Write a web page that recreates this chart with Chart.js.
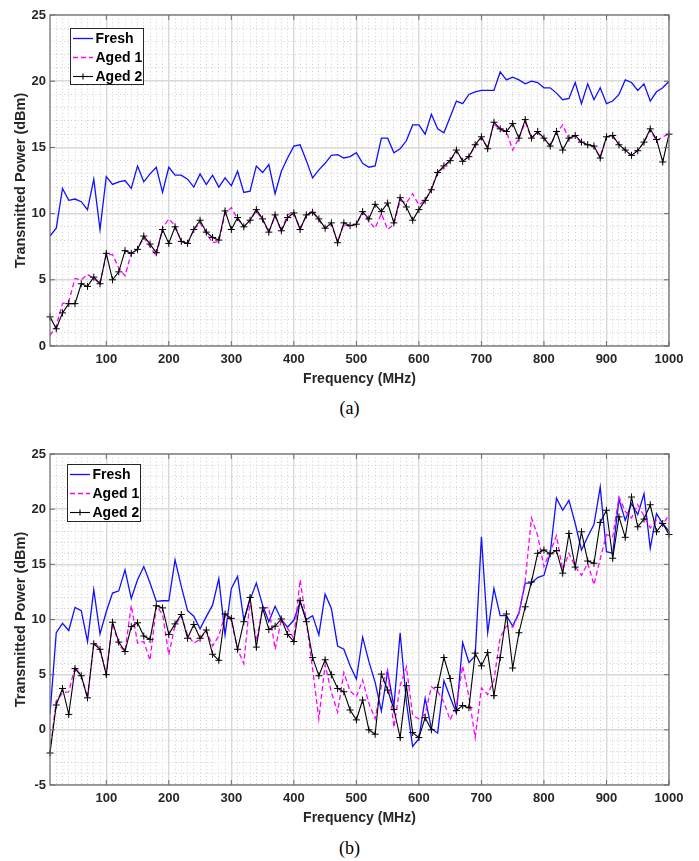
<!DOCTYPE html>
<html lang="en">
<head>
    <meta charset="UTF-8">
    <title>Transmitted Power vs Frequency</title>
    <script src="https://cdn.jsdelivr.net/npm/chart.js"></script>
    <style>
        body {
            margin: 0;
            background: #fff;
        }

        .page {
            position: relative;
            width: 699px;
            height: 861px;
            background: #fff;
        }

        .panel {
            position: absolute;
            left: 0;
            width: 699px;
            height: 395px;
        }

        .caption {
            position: absolute;
            left: 0;
            width: 699px;
            text-align: center;
            font-family: "Liberation Serif", "Times New Roman", serif;
            font-size: 18px;
            color: #000;
        }
    </style>
</head>
<body>
<div class="page">
    <div class="panel" style="top:0"><canvas id="chartA" width="699" height="395"></canvas></div>
    <div class="caption" style="top:398px">(a)</div>
    <div class="panel" style="top:439px"><canvas id="chartB" width="699" height="395"></canvas></div>
    <div class="caption" style="top:838px">(b)</div>
</div>

<script>
    // frequency points (MHz)
    const freq = [
        10, 20, 30, 40, 50, 60, 70, 80, 90, 100,
        110, 120, 130, 140, 150, 160, 170, 180, 190, 200,
        210, 220, 230, 240, 250, 260, 270, 280, 290, 300,
        310, 320, 330, 340, 350, 360, 370, 380, 390, 400,
        410, 420, 430, 440, 450, 460, 470, 480, 490, 500,
        510, 520, 530, 540, 550, 560, 570, 580, 590, 600,
        610, 620, 630, 640, 650, 660, 670, 680, 690, 700,
        710, 720, 730, 740, 750, 760, 770, 780, 790, 800,
        810, 820, 830, 840, 850, 860, 870, 880, 890, 900,
        910, 920, 930, 940, 950, 960, 970, 980, 990, 1000
    ];

    const seriesNames = ['Fresh', 'Aged 1', 'Aged 2'];
    const xTickLabels = [100, 200, 300, 400, 500, 600, 700, 800, 900, 1000];
    const yTickLabelsA = [0, 5, 10, 15, 20, 25];
    const yTickLabelsB = [-5, 0, 5, 10, 15, 20, 25];

    // (a) transmitted power, dBm
    const freshA = [
        8.3, 8.9, 11.9, 11.0, 11.1, 10.9, 10.3, 12.6, 8.8, 12.8,
        12.2, 12.4, 12.5, 11.9, 13.6, 12.4, 13.0, 13.5, 11.6, 13.5,
        12.9, 12.9, 12.6, 12.0, 13.0, 12.2, 12.9, 12.0, 12.7, 12.1,
        13.2, 11.6, 11.7, 13.6, 13.1, 13.7, 11.5, 13.2, 14.2, 15.1,
        15.2, 14.0, 12.7, 13.3, 13.8, 14.4, 14.45, 14.2, 14.3, 14.6,
        13.8, 13.5, 13.6, 15.7, 15.7, 14.6, 14.9, 15.5, 16.7, 16.7,
        16.0, 17.5, 16.4, 16.1, 17.3, 18.5, 18.3, 19.0, 19.2, 19.3,
        19.3, 19.3, 20.7, 20.1, 20.3, 20.1, 19.8, 20.0, 19.9, 19.5,
        19.5, 19.1, 18.6, 18.7, 19.9, 18.3, 19.8, 18.6, 19.5, 18.3,
        18.5, 19.0, 20.1, 19.9, 19.3, 19.8, 18.5, 19.2, 19.5, 20.0
    ];
    const aged1A = [
        0.8, 1.5, 3.2, 3.35, 5.1, 5.0, 5.4, 5.1, 4.7, 6.9,
        6.9, 5.9, 5.3, 7.0, 7.3, 8.2, 7.5, 6.8, 8.9, 9.6,
        9.1, 7.9, 7.7, 8.8, 9.3, 8.5, 7.8, 7.9, 10.0, 10.45,
        9.6, 9.0, 9.5, 10.2, 9.5, 8.6, 9.8, 8.7, 9.95, 10.0,
        8.9, 9.8, 10.2, 9.5, 8.9, 9.2, 7.9, 9.2, 9.0, 9.2,
        10.1, 9.4, 8.9, 10.0, 8.8, 9.2, 11.0, 10.8, 11.5, 10.65,
        11.0, 11.9, 13.1, 13.5, 14.0, 14.7, 14.0, 14.3, 15.1, 15.7,
        15.0, 16.8, 16.3, 16.2, 14.8, 15.7, 16.9, 15.7, 16.1, 15.7,
        15.1, 16.1, 16.7, 15.6, 15.9, 15.3, 15.2, 15.0, 14.3, 15.8,
        15.8, 15.2, 14.8, 14.4, 14.8, 15.4, 16.3, 15.5, 15.8, 16.0
    ];
    const aged2A = [
        2.2, 1.3, 2.5, 3.2, 3.2, 4.7, 4.5, 5.2, 4.7, 7.0,
        5.0, 5.6, 7.2, 7.0, 7.3, 8.3, 7.7, 7.05, 8.8, 7.75,
        9.0, 7.9, 7.75, 8.8, 9.5, 8.6, 8.2, 8.0, 10.2, 8.8,
        9.7, 9.0, 9.5, 10.3, 9.6, 8.6, 9.9, 8.7, 9.7, 10.05,
        8.8, 9.9, 10.1, 9.6, 8.9, 9.3, 7.8, 9.3, 9.1, 9.2,
        10.15, 9.6, 10.7, 10.15, 10.8, 9.3, 11.2, 10.5, 9.5, 10.3,
        11.0, 11.8, 13.1, 13.6, 14.0, 14.8, 13.95, 14.3, 15.2, 15.8,
        14.9, 16.9, 16.4, 16.2, 16.8, 15.7, 17.1, 15.7, 16.2, 15.7,
        15.1, 16.2, 14.8, 15.7, 15.9, 15.4, 15.2, 15.1, 14.2, 15.8,
        15.9, 15.2, 14.8, 14.4, 14.75, 15.4, 16.4, 15.6, 13.9, 16.0
    ];

    // (b) transmitted power, dBm
    const freshB = [
        1.4, 8.8, 9.65, 9.0, 11.1, 10.8, 8.0, 12.7, 8.7, 10.7,
        12.4, 12.6, 14.5, 11.9, 13.6, 14.8, 13.3, 11.65, 11.7, 11.7,
        15.4, 13.0, 10.8, 10.3, 9.15, 10.26, 11.3, 13.7, 8.6, 12.8,
        13.9, 9.95, 11.8, 13.3, 11.3, 9.8, 11.2, 10.0, 9.3, 9.95,
        11.6, 10.0, 10.35, 8.6, 12.3, 11.0, 7.6, 7.3, 5.8, 4.6,
        8.4, 6.2, 4.3, 1.7, 5.3, 2.1, 8.8, 2.5, -1.5, -0.8,
        2.85, 0.13, -0.3, 4.45, 2.95, 1.5, 7.9, 6.1, 6.7, 17.5,
        8.8, 12.8, 10.35, 10.35, 9.4, 10.6, 13.3, 13.3, 13.8, 14.0,
        16.0, 21.0, 19.9, 20.8, 18.7, 16.3, 17.5, 18.6, 22.0, 16.15,
        16.0, 20.9, 19.0, 20.5, 19.5, 21.4, 16.45, 19.6, 18.7, 18.0
    ];
    const aged1B = [
        -2.0, 2.6, 3.35, 3.45, 5.7, 4.9, 2.9, 7.9, 7.4, 5.0,
        9.7, 7.7, 7.1, 11.3, 7.85, 8.0, 6.3, 11.2, 10.5, 6.8,
        9.5, 10.3, 8.6, 7.85, 8.2, 9.0, 7.6, 8.5, 10.5, 9.9,
        7.3, 6.0, 11.8, 8.0, 11.0, 11.1, 7.3, 10.0, 9.2, 8.3,
        13.6, 9.8, 5.5, 1.0, 5.9, 3.4, 1.6, 5.2, 3.5, 3.0,
        4.5, 2.4, 1.0, 4.0, 5.4, 0.2, 4.0, 5.7, 1.3, 1.0,
        1.4, 3.9, 3.5, 2.5, 0.9, 2.2, 5.8, 3.0, -0.7, 3.8,
        3.2, 4.5, 8.4, 9.4, 9.3, 10.5, 13.5, 19.2, 17.6, 14.8,
        16.15, 17.6, 14.5, 16.0, 14.8, 14.0, 15.1, 13.15, 15.5, 17.7,
        17.5, 21.1, 19.8, 19.2, 20.4, 19.4, 18.3, 19.0, 18.6, 19.5
    ];
    const aged2B = [
        -2.1, 2.25, 3.75, 1.4, 5.55, 4.9, 2.9, 7.8, 7.3, 5.0,
        9.75, 7.95, 7.1, 9.35, 9.7, 8.5, 8.2, 11.25, 11.05, 8.65,
        9.6, 10.45, 8.3, 9.55, 8.3, 9.05, 6.85, 6.3, 10.5, 10.1,
        7.3, 9.8, 12.0, 7.5, 11.05, 9.1, 9.4, 10.05, 8.65, 8.0,
        11.7, 9.8, 6.55, 4.9, 6.35, 5.0, 3.75, 3.45, 1.8, 0.9,
        2.7, 0.0, -0.4, 5.05, 3.6, 1.85, -0.7, 4.0, -0.25, -0.7,
        1.1, 0.0, 3.85, 6.55, 4.65, 1.75, 2.2, 2.0, 6.95, 5.8,
        7.0, 3.1, 6.55, 10.5, 5.6, 8.8, 11.15, 13.4, 16.0, 16.3,
        15.95, 16.25, 14.2, 17.8, 14.75, 17.95, 15.3, 15.1, 18.8, 19.9,
        15.55, 19.3, 17.45, 21.1, 18.4, 19.1, 20.4, 17.95, 18.7, 17.7
    ];

    Chart.defaults.font.family = '"Liberation Sans", Arial, sans-serif';
    Chart.defaults.color = '#262626';

    const AXIS_COLOR = '#6b6b6b';
    const MAJOR_GRID = '#d9d9d9';
    const MINOR_GRID = '#d0d0d0';

    function pairs(values) {
        return freq.map((f, i) => ({ x: f, y: values[i] }));
    }

    // box around the plot plus small inward ticks, like the MATLAB axes
    const framePlugin = {
        id: 'frame',
        afterDatasetsDraw(chart, args, opts) {
            const { ctx, chartArea: a, scales } = chart;
            ctx.save();
            ctx.strokeStyle = AXIS_COLOR;
            ctx.lineWidth = 1.2;
            ctx.strokeRect(a.left, a.top, a.right - a.left, a.bottom - a.top);
            ctx.lineWidth = 1;
            ctx.beginPath();
            opts.xTicks.forEach(v => {
                const px = scales.x.getPixelForValue(v);
                ctx.moveTo(px, a.bottom); ctx.lineTo(px, a.bottom - 5);
                ctx.moveTo(px, a.top); ctx.lineTo(px, a.top + 5);
            });
            opts.yTicks.forEach(v => {
                const py = scales.y.getPixelForValue(v);
                ctx.moveTo(a.left, py); ctx.lineTo(a.left + 5, py);
                ctx.moveTo(a.right, py); ctx.lineTo(a.right - 5, py);
            });
            ctx.stroke();
            ctx.restore();
        }
    };

    // legend box drawn inside the plot, top left
    const boxLegendPlugin = {
        id: 'boxLegend',
        afterDraw(chart, args, opts) {
            const { ctx } = chart;
            const x = opts.x, y = opts.y, w = opts.w, h = opts.h;
            ctx.save();
            ctx.fillStyle = '#fff';
            ctx.fillRect(x, y, w, h);
            ctx.strokeStyle = '#262626';
            ctx.lineWidth = 1;
            ctx.strokeRect(x + 0.5, y + 0.5, w, h);
            ctx.font = 'bold 14px "Liberation Sans", Arial, sans-serif';
            ctx.textBaseline = 'middle';
            chart.data.datasets.forEach((ds, i) => {
                const cy = y + 10.5 + i * 19;
                ctx.strokeStyle = ds.borderColor;
                ctx.lineWidth = ds.borderWidth;
                ctx.setLineDash(ds.borderDash || []);
                ctx.beginPath();
                ctx.moveTo(x + 3, cy);
                ctx.lineTo(x + 23, cy);
                ctx.stroke();
                ctx.setLineDash([]);
                if (ds.pointStyle === 'cross') {
                    ctx.beginPath();
                    ctx.moveTo(x + 13, cy - 3); ctx.lineTo(x + 13, cy + 3);
                    ctx.moveTo(x + 10, cy); ctx.lineTo(x + 16, cy);
                    ctx.stroke();
                }
                ctx.fillStyle = '#000';
                ctx.fillText(ds.label, x + 25.5, cy + 0.5);
            });
            ctx.restore();
        }
    };

    function makeChart(id, fresh, aged1, aged2, yMin, yMax, yTicks, legendPos) {
        const isMajorX = c => c.tick && Math.round(c.tick.value) % 100 === 0;
        const isMajorY = c => c.tick && Math.round(c.tick.value) % 5 === 0;

        return new Chart(document.getElementById(id), {
            type: 'line',
            data: {
                datasets: [
                    {
                        label: seriesNames[0],
                        data: pairs(fresh),
                        borderColor: '#1010ff',
                        borderWidth: 1.3,
                        pointRadius: 0,
                        tension: 0,
                        order: 3
                    },
                    {
                        label: seriesNames[1],
                        data: pairs(aged1),
                        borderColor: '#ff00ff',
                        borderWidth: 1.3,
                        borderDash: [5, 3],
                        pointRadius: 0,
                        tension: 0,
                        order: 2
                    },
                    {
                        label: seriesNames[2],
                        data: pairs(aged2),
                        borderColor: '#000000',
                        borderWidth: 1.1,
                        pointStyle: 'cross',
                        pointRadius: 3.5,
                        pointBorderColor: '#000000',
                        pointBorderWidth: 1,
                        tension: 0,
                        clip: 6,
                        order: 1
                    }
                ]
            },
            options: {
                responsive: false,
                animation: false,
                layout: {
                    padding: { left: 8, right: 30, top: 15, bottom: 0 }
                },
                plugins: {
                    legend: { display: false },
                    tooltip: { enabled: false },
                    frame: { xTicks: xTickLabels, yTicks: yTicks },
                    boxLegend: legendPos
                },
                scales: {
                    x: {
                        type: 'linear',
                        min: 10,
                        max: 1000,
                        afterFit: s => { s.height = 49; },
                        ticks: {
                            stepSize: 10,
                            autoSkip: false,
                            maxRotation: 0,
                            padding: 6,
                            font: { size: 13, weight: 'bold' },
                            callback: v => xTickLabels.includes(Math.round(v)) ? String(Math.round(v)) : ''
                        },
                        grid: {
                            drawTicks: false,
                            color: c => isMajorX(c) ? MAJOR_GRID : MINOR_GRID,
                            lineWidth: c => isMajorX(c) ? 1.4 : 1
                        },
                        border: {
                            display: false,
                            dash: c => (c.tick && !isMajorX(c)) ? [1, 2.5] : []
                        },
                        title: {
                            display: true,
                            text: 'Frequency (MHz)',
                            font: { size: 14, weight: 'bold' },
                            padding: { top: 0, bottom: 7 }
                        }
                    },
                    y: {
                        min: yMin,
                        max: yMax,
                        afterFit: s => { s.width = 42; },
                        ticks: {
                            stepSize: 1,
                            autoSkip: false,
                            padding: 4,
                            font: { size: 13, weight: 'bold' },
                            callback: v => yTicks.includes(Math.round(v)) ? String(Math.round(v)) : ''
                        },
                        grid: {
                            drawTicks: false,
                            color: c => isMajorY(c) ? MAJOR_GRID : MINOR_GRID,
                            lineWidth: c => isMajorY(c) ? 1.4 : 1
                        },
                        border: {
                            display: false,
                            dash: c => (c.tick && !isMajorY(c)) ? [1, 2.5] : []
                        },
                        title: {
                            display: true,
                            text: 'Transmitted Power (dBm)',
                            font: { size: 14.5, weight: 'bold' },
                            padding: { top: 4, bottom: 0 }
                        }
                    }
                }
            },
            plugins: [framePlugin, boxLegendPlugin]
        });
    }

    makeChart('chartA', freshA, aged1A, aged2A, 0, 25, yTickLabelsA, { x: 70, y: 28, w: 73, h: 56 });
    makeChart('chartB', freshB, aged1B, aged2B, -5, 25, yTickLabelsB, { x: 67, y: 25, w: 73, h: 57 });
</script>
</body>
</html>
